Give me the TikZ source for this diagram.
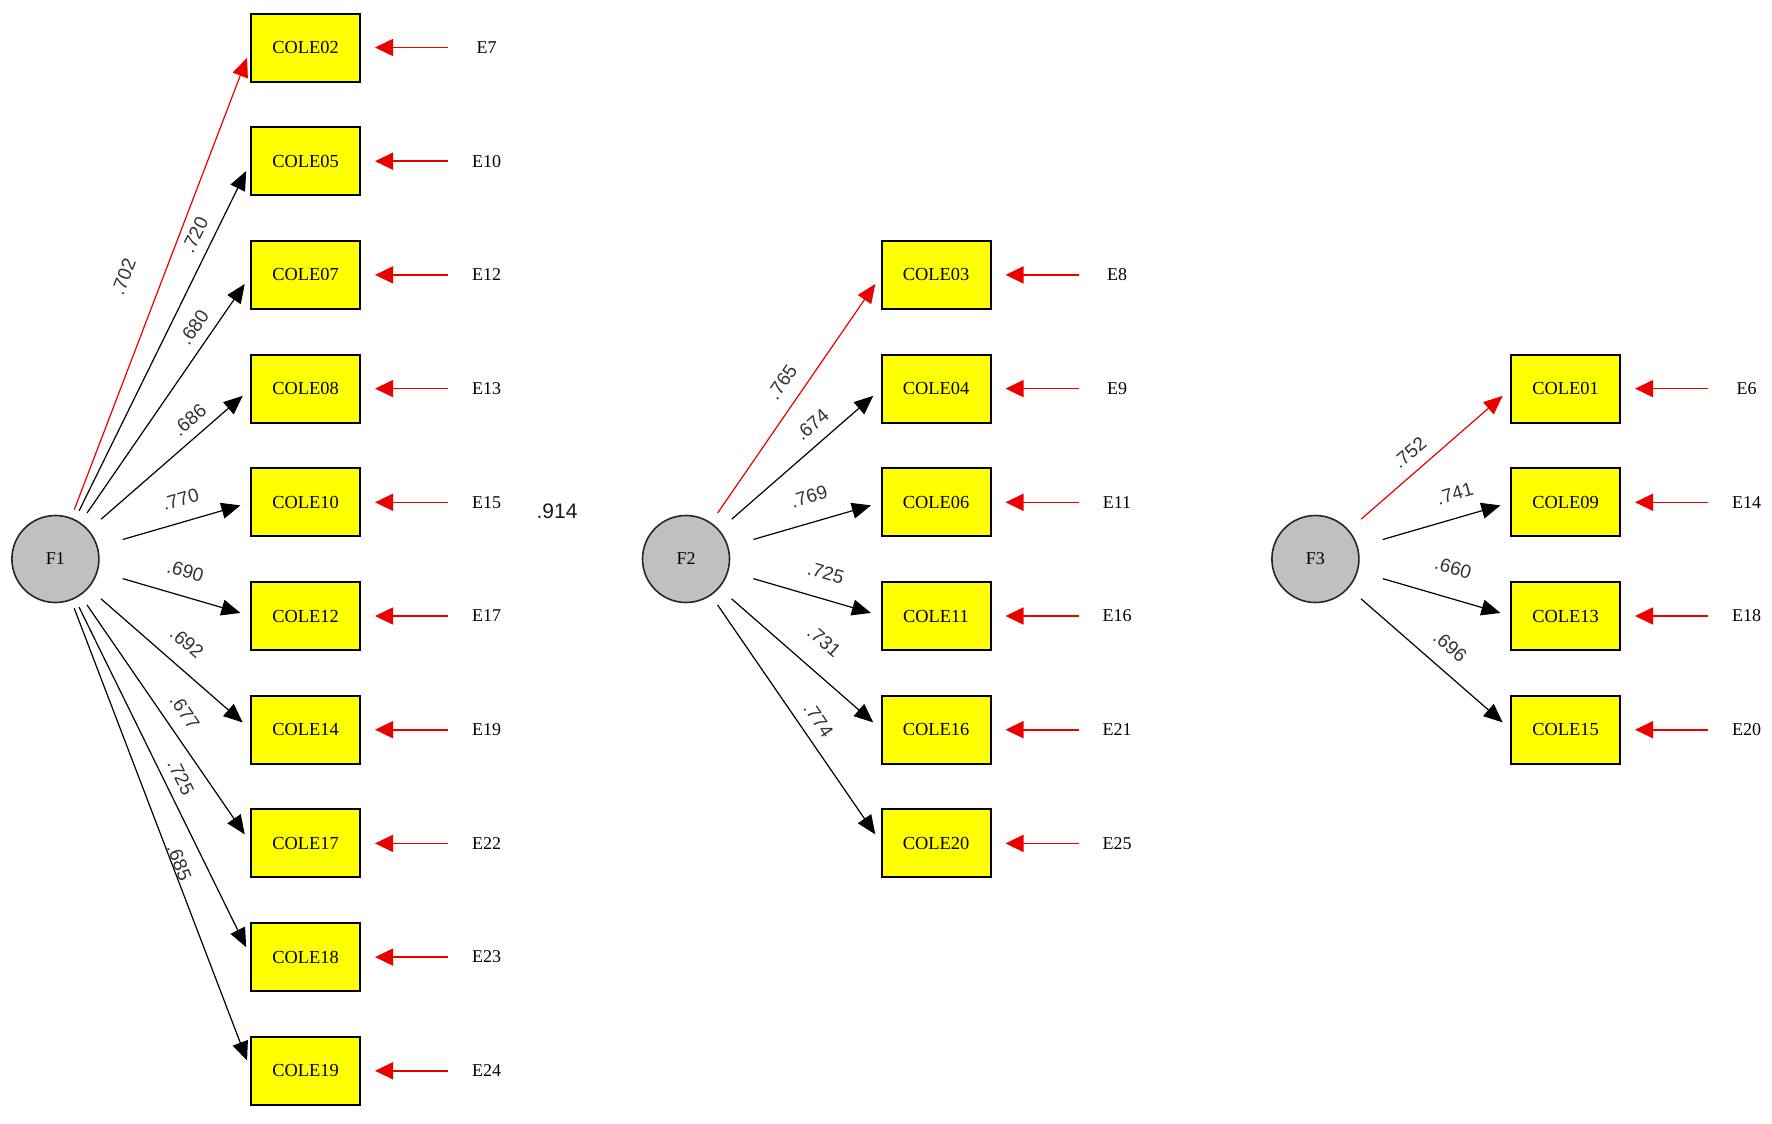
\documentclass[tikz,border=0pt]{standalone}
\usepackage{fontspec}
\setmainfont{Liberation Serif}
\newfontfamily\lblfont{Liberation Sans}
\usetikzlibrary{arrows.meta,shapes.geometric}
\definecolor{latent}{RGB}{192,192,192}
\definecolor{obsfill}{RGB}{255,255,0}
\definecolor{errred}{RGB}{235,0,0}
\begin{document}
\begin{tikzpicture}[x=0.5pt,y=-0.5pt,
  box/.style={draw=black, line width=1pt, fill=obsfill, minimum width=54.5pt, minimum height=34pt, inner sep=0pt, outer sep=0pt, font=\fontsize{9.2}{10}\selectfont},
  latentc/.style={circle, draw=black!85, line width=0.8pt, fill=latent, minimum size=43.5pt, inner sep=0pt, outer sep=0pt, font=\fontsize{9}{10}\selectfont},
  zone/.style={ellipse, minimum width=73pt, minimum height=51pt, inner sep=0pt, outer sep=0pt},
  etxt/.style={font=\fontsize{9}{10}\selectfont, inner sep=0pt},
  lbl/.style={font=\lblfont\fontsize{9.5}{10}\selectfont, text=black!80, inner sep=0pt, sloped},
  load/.style={draw=#1, line width=0.6pt, -{Triangle[length=9.5pt,width=8pt]}, shorten >=5.5pt},
  err/.style={draw=errred, line width=0.8pt, -{Triangle[length=9pt,width=8.5pt]}, shorten <=19.25pt, shorten >=7.5pt}
]
\useasboundingbox (0,0) rectangle (1772,1124);

% latent factors
\node[latentc] (F1) at (55.4,559) {F1};
\node[zone] (F1a) at (55.4,559) {};
\node[latentc] (F2) at (686,559) {F2};
\node[zone] (F2a) at (686,559) {};
\node[latentc] (F3) at (1315.4,559) {F3};
\node[zone] (F3a) at (1315.4,559) {};

\node[font=\lblfont\fontsize{10.5}{12}\selectfont, text=black!90, inner sep=0pt] (corr) at (557,511) {.914};

% factor 1
\foreach \i/\b/\e/\l/\p/\d/\c in {
  0/COLE02/E7/.702/0.475/14.8/errred,
  1/COLE05/E10/.720/0.767/5.2/black,
  2/COLE07/E12/.680/0.739/5/black,
  3/COLE08/E13/.686/0.663/4.7/black,
  4/COLE10/E15/.770/0.50/7.7/black,
  5/COLE12/E17/.690/0.435/8.6/black,
  6/COLE14/E19/.692/0.47/8/black,
  7/COLE17/E22/.677/0.496/6.3/black,
  8/COLE18/E23/.725/0.507/4.5/black,
  9/COLE19/E24/.685/0.556/0/black}{
  \node[box] (\b) at (305.5,{47.5+113.7*\i}) {\b};
  \node[etxt] (\e) at (486.5,{47.5+113.7*\i}) {\e};
  \draw[err] (\e.center) -- (\b.east);
  \draw[load=\c] (F1a) -- (\b.west) node[lbl, pos=\p, above=\d pt] (L\b) {\l};
}

% factor 2
\foreach \i/\b/\e/\l/\p/\d/\c in {
  2/COLE03/E8/.765/0.50/6.8/errred,
  3/COLE04/E9/.674/0.618/5.6/black,
  4/COLE06/E11/.769/0.49/9.1/black,
  5/COLE11/E16/.725/0.51/9.1/black,
  6/COLE16/E21/.731/0.491/10.7/black,
  7/COLE20/E25/.774/0.525/5.5/black}{
  \node[box] (\b) at (936,{47.5+113.7*\i}) {\b};
  \node[etxt] (\e) at (1117,{47.5+113.7*\i}) {\e};
  \draw[err] (\e.center) -- (\b.east);
  \draw[load=\c] (F2a) -- (\b.west) node[lbl, pos=\p, above=\d pt] (L\b) {\l};
}

% factor 3
\foreach \i/\b/\e/\l/\p/\d/\c in {
  3/COLE01/E6/.752/0.404/5.5/errred,
  4/COLE09/E14/.741/0.614/8.4/black,
  5/COLE13/E18/.660/0.483/11.5/black,
  6/COLE15/E20/.696/0.495/7.7/black}{
  \node[box] (\b) at (1565.5,{47.5+113.7*\i}) {\b};
  \node[etxt] (\e) at (1746.5,{47.5+113.7*\i}) {\e};
  \draw[err] (\e.center) -- (\b.east);
  \draw[load=\c] (F3a) -- (\b.west) node[lbl, pos=\p, above=\d pt] (L\b) {\l};
}
\end{tikzpicture}
\end{document}
